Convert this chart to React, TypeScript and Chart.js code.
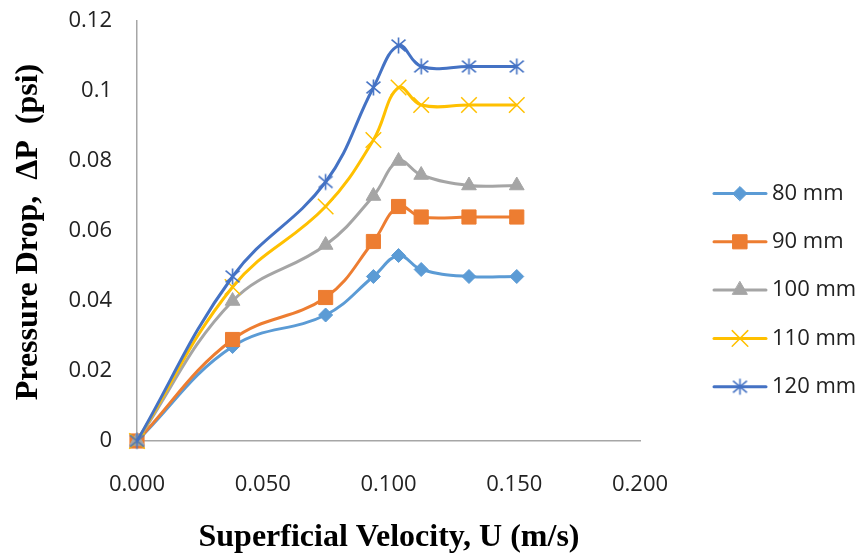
import React, { useEffect, useRef } from "react";
import { Chart, registerables } from "chart.js";
import { drawPoint } from "chart.js/helpers";

Chart.register(...registerables);

const velocity = [0, 0.038, 0.075, 0.094, 0.104, 0.113, 0.132, 0.151];
const mm80 = [0, 0.027, 0.036, 0.047, 0.053, 0.049, 0.047, 0.047];
const mm90 = [0, 0.029, 0.041, 0.057, 0.067, 0.064, 0.064, 0.064];
const mm100 = [0, 0.04, 0.056, 0.07, 0.08, 0.076, 0.073, 0.073];
const mm110 = [0, 0.044, 0.067, 0.086, 0.101, 0.096, 0.096, 0.096];
const mm120 = [0, 0.047, 0.074, 0.101, 0.113, 0.107, 0.107, 0.107];

const seriesLabels = ["80 mm", "90 mm", "100 mm", "110 mm", "120 mm"];
const seriesValues = [mm80, mm90, mm100, mm110, mm120];
const seriesColors = ["#5B9BD5", "#ED7D31", "#A5A5A5", "#FFC000", "#4472C4"];
const seriesRadius = [7, 10, 8.5, 11, 8];

const xTitle = "Superficial Velocity, U (m/s)";
const yTitle = "Pressure Drop,  \u0394P  (psi)";

const TICK_FONT = { family: "'Open Sans'", size: 22 };
const TICK_COLOR = "#222";

function makeStar(color: string) {
  const c = document.createElement("canvas");
  c.width = 19;
  c.height = 19;
  const g = c.getContext("2d")!;
  g.strokeStyle = color;
  g.lineWidth = 1.6;
  const m = 9.5;
  const r = 8;
  const d = r * 0.87;
  g.beginPath();
  g.moveTo(m, m - r);
  g.lineTo(m, m + r);
  g.moveTo(m - d, m - d * 0.85);
  g.lineTo(m + d, m + d * 0.85);
  g.moveTo(m + d, m - d * 0.85);
  g.lineTo(m - d, m + d * 0.85);
  g.stroke();
  return c;
}

const overlayPlugin = {
  id: "overlay",
  afterDraw(chart: any) {
    const ctx = chart.ctx;
    ctx.save();
    ctx.fillStyle = "#000";
    ctx.font = "bold 32px 'Liberation Serif'";
    ctx.textAlign = "center";
    ctx.textBaseline = "middle";
    ctx.fillText(xTitle, 389, 538);
    ctx.save();
    ctx.translate(29, 232);
    ctx.rotate(-Math.PI / 2);
    ctx.fillText(yTitle, 0, 0);
    ctx.restore();

    chart.data.datasets.forEach((ds: any, i: number) => {
      const y = 193.5 + i * 48.3;
      ctx.strokeStyle = ds.borderColor;
      ctx.lineWidth = 3;
      ctx.lineCap = "round";
      ctx.beginPath();
      ctx.moveTo(714, y);
      ctx.lineTo(766, y);
      ctx.stroke();
      ctx.fillStyle = ds.pointBackgroundColor;
      ctx.strokeStyle = ds.pointBorderColor;
      ctx.lineWidth = ds.pointBorderWidth;
      drawPoint(
        ctx,
        { pointStyle: ds.pointStyle, radius: ds.pointRadius, rotation: 0, borderWidth: ds.pointBorderWidth },
        740,
        y
      );
      ctx.fillStyle = TICK_COLOR;
      ctx.font = "22px 'Open Sans'";
      ctx.textAlign = "left";
      ctx.textBaseline = "middle";
      ctx.fillText(ds.label, 772, y);
    });
    ctx.restore();
  },
};

export default function App() {
  const ref = useRef<HTMLCanvasElement>(null);
  useEffect(() => {
    const canvas = ref.current;
    if (!canvas) return;
    const seriesStyles: any[] = ["rectRot", "rect", "triangle", "crossRot", makeStar(seriesColors[4])];
    const datasets = seriesLabels.map((label, i) => ({
      label,
      data: velocity.map((x, j) => ({ x, y: seriesValues[i][j] })),
      borderColor: seriesColors[i],
      backgroundColor: seriesColors[i],
      pointBackgroundColor: seriesColors[i],
      pointBorderColor: seriesColors[i],
      pointBorderWidth: i >= 3 ? 1.5 : 1,
      pointStyle: seriesStyles[i],
      pointRadius: seriesRadius[i],
      borderWidth: 3,
      tension: 0.4,
      fill: false,
      clip: false as any,
      order: seriesLabels.length - i,
    }));
    const chart = new Chart(canvas, {
      type: "line",
      data: { datasets },
      options: {
        responsive: false,
        animation: false,
        events: [],
        layout: { padding: { top: 21, right: 223, left: 0, bottom: 0 } },
        plugins: {
          legend: { display: false },
          tooltip: { enabled: false },
          title: { display: false },
        },
        scales: {
          x: {
            type: "linear",
            min: 0,
            max: 0.2,
            grid: { display: false, drawTicks: false },
            border: { display: true, color: "#A6A6A6", width: 1.5 },
            ticks: {
              stepSize: 0.05,
              padding: 31,
              font: TICK_FONT,
              color: TICK_COLOR,
              maxRotation: 0,
              callback: (v: any) => Number(v).toFixed(3),
            },
            afterFit: (scale: any) => {
              scale.height = 114;
              scale.paddingLeft = 0;
              scale.paddingRight = 0;
            },
          },
          y: {
            type: "linear",
            min: 0,
            max: 0.12,
            grid: { display: false, drawTicks: false },
            border: { display: true, color: "#A6A6A6", width: 1.5 },
            ticks: {
              stepSize: 0.02,
              padding: 25,
              font: TICK_FONT,
              color: TICK_COLOR,
              callback: (v: any) => String(Number(Number(v).toFixed(2))),
            },
            afterFit: (scale: any) => {
              scale.width = 137;
              scale.paddingTop = 0;
              scale.paddingBottom = 0;
            },
          },
        },
      },
      plugins: [overlayPlugin],
    });
    return () => chart.destroy();
  }, []);
  return (
    <div style={{ position: "fixed", left: 0, top: 0, width: 863, height: 555, background: "#fff" }}>
      <canvas ref={ref} width={863} height={555} />
    </div>
  );
}
